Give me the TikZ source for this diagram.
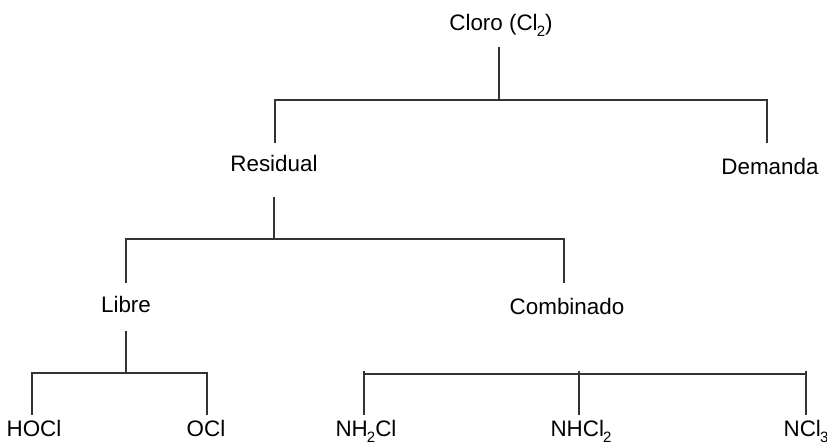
\documentclass[tikz,border=0pt]{standalone}
\usepackage{fontspec}
\setmainfont{Liberation Sans}
\usepackage{tikz}
\newcommand{\chsub}[1]{\kern-0.04em\raisebox{-0.5ex}{\fontsize{7.5}{8}\selectfont #1}}

\begin{document}
\begin{tikzpicture}[x=0.5pt,y=-0.5pt,line width=0.75pt]
						\tikzstyle{every node}=[anchor=base, inner sep=0pt, font=\fontsize{11.2}{13}\selectfont]
						\tikzstyle{rama}=[draw=black!80]
						\useasboundingbox (0,0) rectangle (827,444);
						% texts
						\draw (501,31) node (cloro) {Cloro (Cl\chsub{2})};
						\draw (274,172) node (resid) {Residual};
						\draw (770,175) node (demanda) {Demanda};
						\draw (126,313) node (libre) {Libre};
						\draw (567,315) node (comb) {Combinado};
						\draw (34,437) node (hocl) {HOCl};
						\draw (206,437) node (ocl) {OCl};
						\draw (366,437) node (nh2cl) {NH\chsub{2}Cl};
						\draw (581,437) node (nhcl2) {NHCl\chsub{2}};
						\draw (806,437) node (ncl3) {NCl\chsub{3}};
						% line ends
						\coordinate (c1) at (499,47);
						\coordinate (c2) at (499,100);
						\coordinate (r0) at (275,143);
						\coordinate (d0) at (767,143);
						\coordinate (r1) at (274,197);
						\coordinate (r2) at (274,239);
						\coordinate (l0) at (126,283);
						\coordinate (k0) at (564,283);
						\coordinate (l1) at (126,331);
						\coordinate (l2) at (126,373);
						\coordinate (h0) at (32,415);
						\coordinate (o0) at (207,415);
						\coordinate (n1) at (364,415);
						\coordinate (n2) at (579,415);
						\coordinate (n3) at (806,415);
						\coordinate (nb) at (579,374);
						% lines
						\draw[rama] (c1) -- (c2);
						\draw[rama] (r0) |- (c2) -| (d0);
						\draw[rama] (r1) -- (r2);
						\draw[rama] (l0) |- (r2) -| (k0);
						\draw[rama] (l1) -- (l2);
						\draw[rama] (h0) |- (l2) -| (o0);
						\draw[rama] (n1) |- (nb) -| (n3);
						\draw[rama] ([yshift=1.5]nb) -- (n2);
						\draw[rama] ([yshift=1.5]n1 |- nb) -- (n1 |- nb);
						\draw[rama] ([yshift=1.5]n3 |- nb) -- (n3 |- nb);
					\end{tikzpicture}
\end{document}
